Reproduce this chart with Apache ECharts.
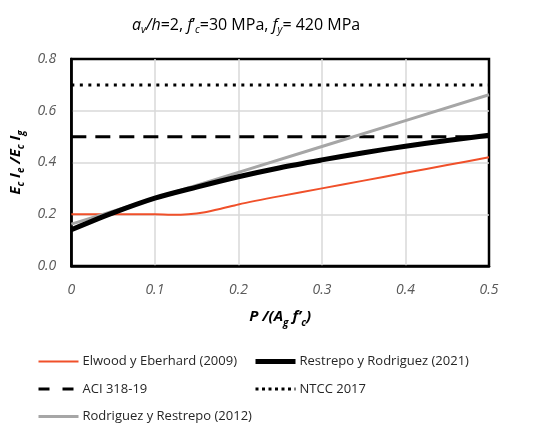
<!DOCTYPE html>
<html>
<head>
<meta charset="utf-8">
<script src="https://cdn.jsdelivr.net/npm/echarts@6/dist/echarts.min.js"></script>
<style>html,body{margin:0;padding:0;background:#fff}#c{width:537px;height:430px}</style>
</head>
<body>
<div id="c"></div>
<script>
const seriesNames = ['Elwood y Eberhard (2009)', 'Restrepo y Rodriguez (2021)', 'ACI 318-19', 'NTCC 2017', 'Rodriguez y Restrepo (2012)'];
const xTicks = [0, 0.1, 0.2, 0.3, 0.4, 0.5];
const yTicks = [0, 0.2, 0.4, 0.6, 0.8];

const elwoodX = [0, 0.05, 0.1, 0.12, 0.14, 0.16, 0.18, 0.2, 0.25, 0.3, 0.35, 0.4, 0.45, 0.5];
const elwoodY = [0.2, 0.2, 0.2, 0.198, 0.2, 0.208, 0.222, 0.238, 0.27, 0.3, 0.33, 0.36, 0.39, 0.42];

const restrepoX = [0, 0.05, 0.1, 0.15, 0.2, 0.25, 0.3, 0.35, 0.4, 0.45, 0.5];
const restrepoY = [0.14, 0.205, 0.262, 0.305, 0.345, 0.38, 0.41, 0.438, 0.463, 0.485, 0.505];

const aciX = [0, 0.5];
const aciY = [0.5, 0.5];

const ntccX = [0, 0.5];
const ntccY = [0.7, 0.7];

const rodriguezX = [0, 0.1, 0.2, 0.3, 0.4, 0.5];
const rodriguezY = [0.162, 0.262, 0.362, 0.462, 0.562, 0.662];

function pairs(xs, ys) { return xs.map((x, i) => [x, ys[i]]); }

const fontFam = '"Open Sans", "Noto Sans", sans-serif';
const chart = echarts.init(document.getElementById('c'), null, {renderer: 'canvas'});

const subRich = {
  n: {fontSize: 16, fontFamily: fontFam, fontWeight: 'normal', color: '#000', lineHeight: 22, verticalAlign: 'middle'},
  i: {fontSize: 16, fontFamily: fontFam, fontWeight: 'normal', fontStyle: 'italic', color: '#000', lineHeight: 22, verticalAlign: 'middle'},
  s: {fontSize: 10.5, fontFamily: fontFam, fontWeight: 'normal', fontStyle: 'italic', color: '#000', lineHeight: 10, verticalAlign: 'bottom'}
};
const axRich = {
  b: {fontSize: 15, fontFamily: fontFam, fontStyle: 'italic', fontWeight: 'bold', color: '#000', lineHeight: 22, verticalAlign: 'middle'},
  s: {fontSize: 10, fontFamily: fontFam, fontStyle: 'italic', fontWeight: 'bold', color: '#000', lineHeight: 10, verticalAlign: 'bottom'}
};

const legText = {fontSize: 13, fontFamily: fontFam, color: '#262626', padding: [0, 0, 0, -1]};
const hideSym = {opacity: 0, borderWidth: 0};

chart.setOption({
  animation: false,
  title: {
    text: '{i|a}{s|v}{i|/h}{n|=2, }{i|f}{n|\u2019}{s|c}{n|=30 MPa, }{i|f}{s|y}{n|= 420 MPa}',
    left: 127, top: 9,
    textStyle: {fontWeight: 'normal', rich: subRich}
  },
  grid: {left: 65, right: 48, top: 59, bottom: 164, show: true, borderColor: '#000', borderWidth: 2.5, containLabel: false},
  legend: [
    {
      orient: 'vertical', left: 37, top: 355, padding: 0, itemWidth: 40, itemHeight: 14, itemGap: 14.5,
      textStyle: legText, itemStyle: hideSym,
      data: [
        {name: seriesNames[0], itemStyle: hideSym, lineStyle: {color: '#F0502A', width: 2, type: 'solid'}},
        {name: seriesNames[2], itemStyle: hideSym, lineStyle: {color: '#000', width: 3, type: [11, 13]}},
        {name: seriesNames[4], itemStyle: hideSym, lineStyle: {color: '#A6A6A6', width: 3, type: 'solid'}}
      ]
    },
    {
      orient: 'vertical', left: 253, top: 355, padding: 0, itemWidth: 40, itemHeight: 14, itemGap: 14.5,
      textStyle: legText, itemStyle: hideSym,
      data: [
        {name: seriesNames[1], itemStyle: hideSym, lineStyle: {color: '#000', width: 5, type: 'solid'}},
        {name: seriesNames[3], itemStyle: hideSym, lineStyle: {color: '#000', width: 3, type: [3, 3.5]}}
      ]
    }
  ],
  xAxis: {
    type: 'value', min: 0, max: 0.5, interval: 0.1,
    name: '{b|P /(A}{s|g}{b| f\u2019}{s|c}{b|)}',
    nameLocation: 'middle', nameGap: 40,
    nameTextStyle: {rich: axRich},
    axisLine: {show: true, lineStyle: {color: '#000', width: 2.5}},
    axisTick: {show: false},
    axisLabel: {margin: 17, fontSize: 14, fontStyle: 'italic', fontFamily: fontFam, color: '#595959',
      formatter: v => v === 0 ? '0' : v.toFixed(1)},
    splitLine: {show: true, showMinLine: false, showMaxLine: false, lineStyle: {color: '#d9d9d9', width: 1.5}}
  },
  yAxis: {
    type: 'value', min: 0, max: 0.8, interval: 0.2,
    name: '{b|E}{s|c}{b| I}{s|e}{b| /E}{s|c}{b| I}{s|g}',
    nameLocation: 'middle', nameGap: 44, nameRotate: 90,
    nameTextStyle: {rich: axRich},
    axisLine: {show: true, lineStyle: {color: '#000', width: 2.5}},
    axisTick: {show: false},
    axisLabel: {margin: 15, fontSize: 14, fontStyle: 'italic', fontFamily: fontFam, color: '#595959',
      formatter: v => v.toFixed(1)},
    splitLine: {show: true, showMinLine: false, showMaxLine: false, lineStyle: {color: '#d9d9d9', width: 1.5}}
  },
  series: [
    {name: seriesNames[0], type: 'line', data: pairs(elwoodX, elwoodY), smooth: 0.3, showSymbol: false, symbol: 'none', z: 2,
      lineStyle: {color: '#F0502A', width: 2}, itemStyle: {color: '#F0502A'}},
    {name: seriesNames[1], type: 'line', data: pairs(restrepoX, restrepoY), smooth: 0.3, showSymbol: false, symbol: 'none', z: 5,
      lineStyle: {color: '#000', width: 5}, itemStyle: {color: '#000'}},
    {name: seriesNames[2], type: 'line', data: pairs(aciX, aciY), showSymbol: false, symbol: 'none', z: 3,
      lineStyle: {color: '#000', width: 3, type: [15, 9]}, itemStyle: {color: '#000'}},
    {name: seriesNames[3], type: 'line', data: pairs(ntccX, ntccY), showSymbol: false, symbol: 'none', z: 3,
      lineStyle: {color: '#000', width: 3, type: [3, 5.5]}, itemStyle: {color: '#000'}},
    {name: seriesNames[4], type: 'line', data: pairs(rodriguezX, rodriguezY), showSymbol: false, symbol: 'none', z: 4,
      lineStyle: {color: '#A6A6A6', width: 3}, itemStyle: {color: '#A6A6A6'}}
  ]
});
</script>
</body>
</html>
